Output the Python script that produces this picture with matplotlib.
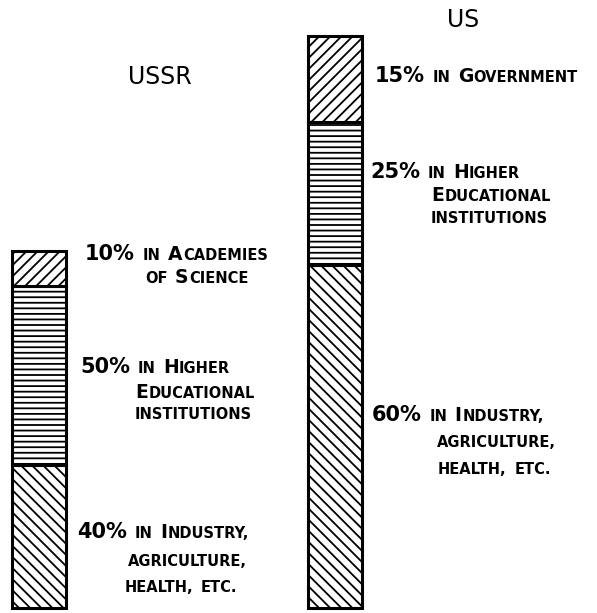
import matplotlib
matplotlib.use("Agg")
import matplotlib.pyplot as plt

W, H = 597, 613

countries = ["USSR", "US"]
# relative number of scientists (US = 100)
totals = [62.5, 100]
# shares of each bar, bottom to top
shares = {
    "USSR": [40, 50, 10],
    "US": [60, 25, 15],
}
# label text per segment, bottom to top (capitals drawn larger, lowercase as small caps)
labels = {
    "USSR": [
        ["40% in Industry,", "agriculture,", "health, etc."],
        ["50% in Higher", "Educational", "institutions"],
        ["10% in Academies", "of Science"],
    ],
    "US": [
        ["60% in Industry,", "agriculture,", "health, etc."],
        ["25% in Higher", "Educational", "institutions"],
        ["15% in Government"],
    ],
}

HATCHES = ["\\\\\\", "---", "///"]
BAR_X = [38.5, 334.5]
BAR_W = 54

# label layout: (left px, baseline px) per line, top-left origin
LABEL_POS = {
    "USSR": [
        [(77, 538), (128, 566), (125, 592)],
        [(80, 373), (135, 398), (135, 419)],
        [(85, 260), (145, 283)],
    ],
    "US": [
        [(372, 421), (437, 447), (438, 474)],
        [(370, 178), (431, 201), (431, 223)],
        [(375, 82)],
    ],
}
TITLE_POS = {"USSR": (160, 84), "US": (463, 27)}

BIG, CAP, SMALL = 15, 13.5, 10.5
WORD_GAP = 7

plt.rcParams["hatch.linewidth"] = 1.3
plt.rcParams["font.family"] = "DejaVu Sans"

fig = plt.figure(figsize=(W / 100, H / 100), dpi=100)
ax = fig.add_axes([0, 0, 1, 1])
ax.set_xlim(0, W)
ax.set_ylim(-0.87, 106.3)
ax.axis("off")

for x, country, total in zip(BAR_X, countries, totals):
    bottom = 0
    for share, hatch in zip(shares[country], HATCHES):
        h = total * share / 100
        ax.bar(x, h, width=BAR_W, bottom=bottom, color="white",
               edgecolor="black", hatch=hatch, linewidth=2.2)
        bottom += h

renderer = fig.canvas.get_renderer()


def char_size(c):
    if c.isdigit() or c == "%":
        return BIG
    if c.isupper():
        return CAP
    return SMALL


def small_caps(px, py, line):
    # split line into runs of same size, draw them one after another
    runs = []
    for c in line:
        if c == " ":
            runs.append((" ", None))
            continue
        s = char_size(c)
        if runs and runs[-1][1] == s:
            runs[-1] = (runs[-1][0] + c.upper(), s)
        else:
            runs.append((c.upper(), s))
    cur = px
    for text, size in runs:
        if size is None:
            cur += WORD_GAP
            continue
        t = fig.text(cur / W, 1 - py / H, text, fontsize=size,
                     fontweight="bold", ha="left", va="baseline")
        cur += t.get_window_extent(renderer).width + 0.5


for country in countries:
    for seg_lines, seg_pos in zip(labels[country], LABEL_POS[country]):
        for line, (px, py) in zip(seg_lines, seg_pos):
            small_caps(px, py, line)
    tx, ty = TITLE_POS[country]
    fig.text(tx / W, 1 - ty / H, country, fontsize=17, ha="center",
             va="baseline")

fig.savefig("out.png", dpi=100)
